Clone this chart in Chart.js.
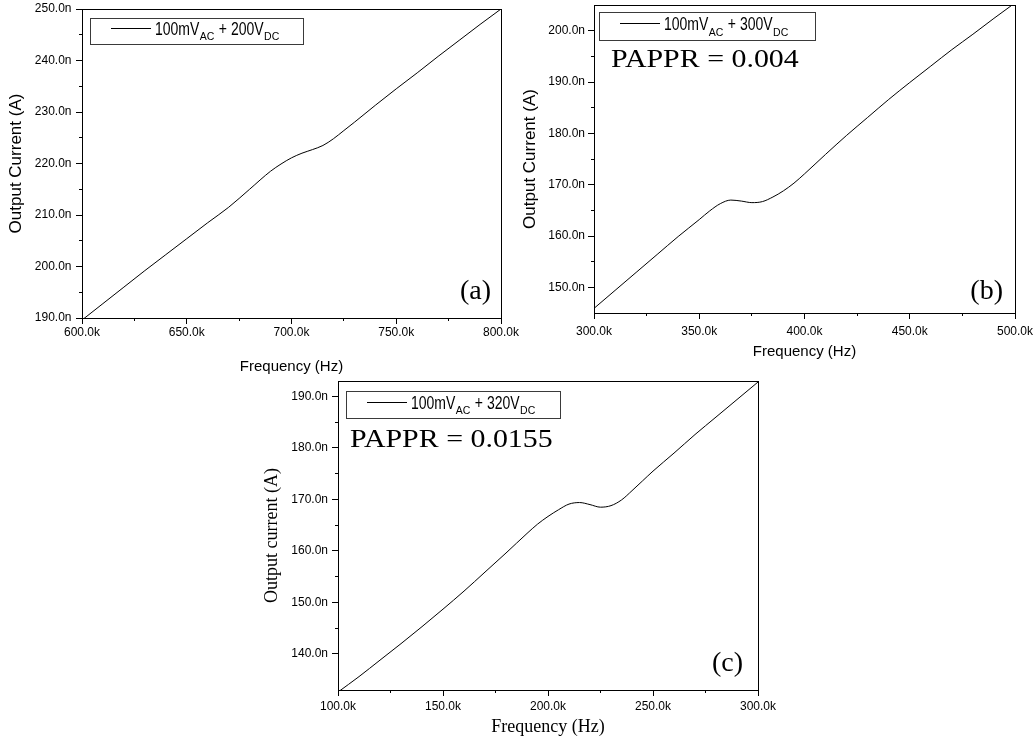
<!DOCTYPE html>
<html>
<head>
<meta charset="utf-8">
<script src="https://cdn.jsdelivr.net/npm/chart.js@4.4.0/dist/chart.umd.min.js"></script>
<style>
  html, body { margin: 0; padding: 0; background: #fff; }
  body { width: 1036px; height: 744px; position: relative; overflow: hidden; }
  canvas { position: absolute; }
</style>
</head>
<body>
<canvas id="chartA"></canvas>
<canvas id="chartB"></canvas>
<canvas id="chartC"></canvas>
<script>
// Frequency in kHz, output current in nA
const freqA = [600, 610, 620, 630, 640, 650, 660, 670, 680, 690, 695, 700, 705, 710, 715, 720, 725, 730, 740, 750, 760, 770, 780, 790, 800];
const currentA = [189.6, 192.8, 196.0, 199.2, 202.3, 205.4, 208.5, 211.5, 215.0, 218.5, 219.9, 221.1, 222.0, 222.7, 223.5, 224.8, 226.4, 228.0, 231.3, 234.5, 237.6, 240.8, 243.9, 247.0, 250.0];

const freqB = [300, 310, 320, 330, 340, 350, 355, 360, 365, 370, 375, 380, 385, 390, 395, 400, 410, 420, 430, 440, 450, 460, 470, 480, 490, 500];
const currentB = [145.9, 149.4, 152.9, 156.4, 159.9, 163.2, 164.9, 166.3, 167.0, 166.8, 166.5, 166.7, 167.6, 168.8, 170.3, 172.1, 175.9, 179.6, 183.1, 186.6, 189.9, 193.1, 196.3, 199.3, 202.4, 205.4];

const freqC = [100, 110, 120, 130, 140, 150, 160, 170, 180, 190, 195, 200, 205, 210, 215, 220, 225, 230, 235, 240, 245, 250, 260, 270, 280, 290, 300];
const currentC = [132.6, 135.6, 138.8, 142.0, 145.3, 148.7, 152.2, 155.9, 159.6, 163.4, 165.2, 166.7, 168.0, 169.1, 169.4, 169.0, 168.5, 168.8, 169.9, 171.7, 173.6, 175.5, 179.0, 182.6, 186.0, 189.4, 192.8];

const xLimitsA = [600, 800], yLimitsA = [190, 250];
const xLimitsB = [300, 500], yLimitsB = [145, 205];
const xLimitsC = [100, 300], yLimitsC = [133, 193];

const xTicksA = [600, 650, 700, 750, 800];
const yTicksA = [190, 200, 210, 220, 230, 240, 250];
const xTicksB = [300, 350, 400, 450, 500];
const yTicksB = [150, 160, 170, 180, 190, 200];
const xTicksC = [100, 150, 200, 250, 300];
const yTicksC = [140, 150, 160, 170, 180, 190];

const legendA = '100mV_AC + 200V_DC';
const legendB = '100mV_AC + 300V_DC';
const legendC = '100mV_AC + 320V_DC';

const noteB = 'PAPPR = 0.004';
const noteC = 'PAPPR = 0.0155';

const SANS = '"Liberation Sans", Arial, sans-serif';
const SERIF = '"Liberation Serif", "Times New Roman", serif';
const PAD = { top: 30, right: 40, bottom: 10, left: 10 };

const panels = [
  {
    id: 'chartA', freq: freqA, current: currentA, xLim: xLimitsA, yLim: yLimitsA,
    xTicks: xTicksA, yTicks: yTicksA, legend: legendA, note: null, tag: '(a)',
    xTitle: 'Frequency (Hz)', yTitle: 'Output Current (A)', titleFont: SANS, xTitleSize: 15, yTitleSize: 17,
    area: { left: 82, top: 9, right: 501, bottom: 318 },
    yTitleX: 16, xTitleY: 367, xTickPad: 1, yTickPad: 4.5,
    legendBox: [8, 9, 213, 26], notePos: null, tagPos: [10, 19]
  },
  {
    id: 'chartB', freq: freqB, current: currentB, xLim: xLimitsB, yLim: yLimitsB,
    xTicks: xTicksB, yTicks: yTicksB, legend: legendB, note: noteB, tag: '(b)',
    xTitle: 'Frequency (Hz)', yTitle: 'Output Current (A)', titleFont: SANS, xTitleSize: 15, yTitleSize: 17,
    area: { left: 594, top: 5, right: 1015, bottom: 313 },
    yTitleX: 530, xTitleY: 352, xTickPad: 5, yTickPad: 3,
    legendBox: [5, 7, 216, 28], notePos: [17, 62], tagPos: [12, 14]
  },
  {
    id: 'chartC', freq: freqC, current: currentC, xLim: xLimitsC, yLim: yLimitsC,
    xTicks: xTicksC, yTicks: yTicksC, legend: legendC, note: noteC, tag: '(c)',
    xTitle: 'Frequency (Hz)', yTitle: 'Output current (A)', titleFont: SERIF, xTitleSize: 18, yTitleSize: 18,
    area: { left: 338, top: 381, right: 758, bottom: 690 },
    yTitleX: 272, xTitleY: 727, xTickPad: 3, yTickPad: 4,
    legendBox: [8, 10, 214, 27], notePos: [12, 66], tagPos: [15, 19]
  }
];

function midpoints(arr) {
  const out = [];
  for (let i = 0; i < arr.length - 1; i++) out.push((arr[i] + arr[i + 1]) / 2);
  return out;
}

// splits "100mV_AC + 200V_DC" into normal and subscript runs
function legendRuns(text) {
  const runs = [];
  const re = /_([A-Z]+)/g;
  let last = 0, m;
  while ((m = re.exec(text)) !== null) {
    runs.push({ text: text.slice(last, m.index), sub: false });
    runs.push({ text: m[1], sub: true });
    last = re.lastIndex;
  }
  if (last < text.length) runs.push({ text: text.slice(last), sub: false });
  return runs;
}

function drawLegend(ctx, area, p) {
  const [dx, dy, w, h] = p.legendBox;
  const bx = Math.round(area.left + dx), by = Math.round(area.top + dy);
  ctx.save();
  ctx.lineWidth = 1;
  ctx.strokeStyle = '#3a3a3a';
  ctx.strokeRect(bx + 0.5, by + 0.5, w, h);
  const ly = Math.round(by + h * 0.4) + 0.5;
  ctx.strokeStyle = '#000';
  ctx.beginPath();
  ctx.moveTo(bx + 21, ly);
  ctx.lineTo(bx + 61, ly);
  ctx.stroke();
  ctx.fillStyle = '#000';
  ctx.textBaseline = 'alphabetic';
  ctx.textAlign = 'left';
  let x = bx + 65;
  const base = by + h * 0.65;
  for (const run of legendRuns(p.legend)) {
    if (run.sub) {
      ctx.font = '10.5px ' + SANS;
      ctx.fillText(run.text, x + 0.5, base + 5.5);
      x += ctx.measureText(run.text).width + 1;
    } else {
      ctx.font = '14px ' + SANS;
      ctx.save();
      ctx.translate(x, base);
      ctx.scale(1, 1.25);
      ctx.fillText(run.text, 0, 0);
      ctx.restore();
      x += ctx.measureText(run.text).width;
    }
  }
  ctx.restore();
}

function decorPlugin(p) {
  return {
    id: 'decor',
    afterDatasetsDraw(chart) {
      const { ctx, chartArea: a } = chart;
      ctx.save();
      // top and right edges of the plot frame
      ctx.strokeStyle = '#000';
      ctx.lineWidth = 1;
      ctx.beginPath();
      ctx.moveTo(Math.round(a.left), Math.round(a.top) + 0.5);
      ctx.lineTo(Math.round(a.right) + 1, Math.round(a.top) + 0.5);
      ctx.moveTo(Math.round(a.right) + 0.5, Math.round(a.top));
      ctx.lineTo(Math.round(a.right) + 0.5, Math.round(a.bottom) + 1);
      ctx.stroke();

      drawLegend(ctx, a, p);

      ctx.fillStyle = '#000';
      ctx.textBaseline = 'alphabetic';
      if (p.note) {
        ctx.save();
        ctx.translate(a.left + p.notePos[0], a.top + p.notePos[1]);
        ctx.scale(1.15, 1);
        ctx.font = '26px ' + SERIF;
        ctx.textAlign = 'left';
        ctx.fillText(p.note, 0, 0);
        ctx.restore();
      }
      ctx.font = '28px ' + SERIF;
      ctx.textAlign = 'right';
      ctx.fillText(p.tag, a.right - p.tagPos[0], a.bottom - p.tagPos[1]);
      ctx.restore();
    }
  };
}

function buildPanel(p) {
  const yAxisW = Math.round(p.area.left - p.yTitleX + p.yTitleSize * 1.2 / 2);
  const xAxisH = Math.round(p.xTitleY - p.area.bottom + p.xTitleSize * 1.2 / 2);
  const width = PAD.left + yAxisW + (p.area.right - p.area.left) + PAD.right;
  const height = PAD.top + (p.area.bottom - p.area.top) + xAxisH + PAD.bottom;

  const canvas = document.getElementById(p.id);
  canvas.width = width;
  canvas.height = height;
  canvas.style.width = width + 'px';
  canvas.style.height = height + 'px';
  canvas.style.left = (p.area.left - yAxisW - PAD.left) + 'px';
  canvas.style.top = (p.area.top - PAD.top) + 'px';

  const tickFont = { family: SANS, size: 12 };
  const titleFontX = { family: p.titleFont, size: p.xTitleSize };
  const titleFontY = { family: p.titleFont, size: p.yTitleSize };

  return new Chart(canvas.getContext('2d'), {
    type: 'line',
    data: {
      datasets: [{
        label: p.legend,
        data: p.freq.map((f, i) => ({ x: f, y: p.current[i] })),
        borderColor: '#000',
        borderWidth: 1,
        pointRadius: 0,
        fill: false,
        cubicInterpolationMode: 'monotone'
      }]
    },
    options: {
      responsive: false,
      maintainAspectRatio: false,
      animation: false,
      layout: { padding: PAD },
      scales: {
        x: {
          type: 'linear', position: 'bottom', weight: 1,
          min: p.xLim[0], max: p.xLim[1],
          afterBuildTicks: s => { s.ticks = p.xTicks.map(v => ({ value: v })); },
          afterFit: s => { s.height = xAxisH; },
          ticks: { font: tickFont, color: '#000', padding: p.xTickPad, autoSkip: false, maxRotation: 0,
                   callback: v => v.toFixed(1) + 'k' },
          grid: { display: true, drawOnChartArea: false, drawTicks: true, tickLength: 6, color: '#000' },
          border: { display: true, color: '#000', width: 1 },
          title: { display: true, text: p.xTitle, font: titleFontX, color: '#000', padding: 0 }
        },
        xm: {
          type: 'linear', position: 'bottom', weight: 0,
          min: p.xLim[0], max: p.xLim[1],
          afterBuildTicks: s => { s.ticks = midpoints(p.xTicks).map(v => ({ value: v })); },
          afterFit: s => { s.height = 0; },
          ticks: { display: false },
          grid: { display: true, drawOnChartArea: false, drawTicks: true, tickLength: 3, color: '#000' },
          border: { display: false }
        },
        y: {
          type: 'linear', position: 'left', weight: 1,
          min: p.yLim[0], max: p.yLim[1],
          afterBuildTicks: s => { s.ticks = p.yTicks.map(v => ({ value: v })); },
          afterFit: s => { s.width = yAxisW; },
          ticks: { font: tickFont, color: '#000', padding: p.yTickPad, autoSkip: false,
                   callback: v => v.toFixed(1) + 'n' },
          grid: { display: true, drawOnChartArea: false, drawTicks: true, tickLength: 6, color: '#000' },
          border: { display: true, color: '#000', width: 1 },
          title: { display: true, text: p.yTitle, font: titleFontY, color: '#000', padding: 0 }
        },
        ym: {
          type: 'linear', position: 'left', weight: 0,
          min: p.yLim[0], max: p.yLim[1],
          afterBuildTicks: s => { s.ticks = midpoints(p.yTicks).map(v => ({ value: v })); },
          afterFit: s => { s.width = 0; },
          ticks: { display: false },
          grid: { display: true, drawOnChartArea: false, drawTicks: true, tickLength: 3, color: '#000' },
          border: { display: false }
        }
      },
      plugins: { legend: { display: false }, tooltip: { enabled: false } }
    },
    plugins: [decorPlugin(p)]
  });
}

panels.forEach(buildPanel);
</script>
</body>
</html>
